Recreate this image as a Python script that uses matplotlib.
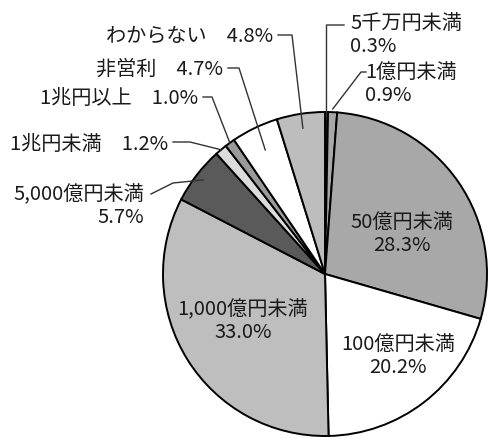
import numpy as np
import matplotlib
matplotlib.use("Agg")
import matplotlib.pyplot as plt

plt.rcParams['font.family'] = ['Noto Sans CJK JP', 'DejaVu Sans']

# data (clockwise from 12 o'clock)
labels = ["5千万円未満", "1億円未満", "50億円未満", "100億円未満", "1,000億円未満",
          "5,000億円未満", "1兆円未満", "1兆円以上", "非営利", "わからない"]
shares = [0.3, 0.9, 28.3, 20.2, 33.0, 5.7, 1.2, 1.0, 4.7, 4.8]
colors = ["#1a1a1a", "#a8a8a8", "#a8a8a8", "#ffffff", "#bebebe",
          "#5a5a5a", "#dcdcdc", "#9a9a9a", "#ffffff", "#bdbdbd"]

W, H = 491, 438
fig = plt.figure(figsize=(W / 100, H / 100), dpi=100)
ax = fig.add_axes([0, 0, 1, 1])
cx, cy, R = 325, 438 - 274, 162

wedges, _ = ax.pie(shares, colors=colors, startangle=90, counterclock=False,
                   center=(cx, cy), radius=R, frame=True,
                   wedgeprops=dict(edgecolor="black", linewidth=1.4))
ax.set_xlim(0, W)
ax.set_ylim(0, H)
ax.set_aspect("equal")
ax.axis("off")

fs = 14.5
txt = dict(fontsize=fs, color="#1a1a1a", linespacing=1.1)


def edge(i, r=1.0):
    w = wedges[i]
    a = np.deg2rad((w.theta1 + w.theta2) / 2)
    return cx + r * R * np.cos(a), cy + r * R * np.sin(a)


def leader(i, r, pts):
    x0, y0 = edge(i, r)
    xs = [x0] + [p[0] for p in pts]
    ys = [y0] + [H - p[1] for p in pts]
    ax.plot(xs, ys, color="#333333", lw=1.0)


# outside labels (positions in pixel coords from top)
leader(0, 0.97, [(326.5, 25), (344, 25)])
ax.text(350, H - 35, "5千万円未満\n" + f"{shares[0]}%", ha="left", va="center", **txt)

leader(1, 1.02, [(361, 72), (366, 72)])
ax.text(365, H - 84, "1億円未満\n" + f"{shares[1]}%", ha="left", va="center", **txt)

leader(9, 0.91, [(292, 35), (278, 35)])
ax.text(273, H - 36, labels[9] + "　" + f"{shares[9]}%", ha="right", va="center", **txt)

leader(8, 0.85, [(239, 68), (228, 68)])
ax.text(223, H - 69, labels[8] + "　" + f"{shares[8]}%", ha="right", va="center", **txt)

leader(7, 1.0, [(212, 97), (203, 97)])
ax.text(198, H - 98, labels[7] + "　" + f"{shares[7]}%", ha="right", va="center", **txt)

leader(6, 1.0, [(190, 142), (173, 142)])
ax.text(168, H - 144, labels[6] + "　" + f"{shares[6]}%", ha="right", va="center", **txt)

leader(5, 0.95, [(173, 183), (151, 194)])
ax.text(144, H - 206, labels[5] + "\n" + f"{shares[5]}%", ha="right", va="center",
        multialignment="right", **txt)

# inside labels
ax.text(402, H - 234, labels[2] + "\n" + f"{shares[2]}%", ha="center", va="center", **txt)
ax.text(398, H - 356, labels[3] + "\n" + f"{shares[3]}%", ha="center", va="center", **txt)
ax.text(243, H - 321, labels[4] + "\n" + f"{shares[4]}%", ha="center", va="center", **txt)

fig.savefig("out.png", dpi=100)
